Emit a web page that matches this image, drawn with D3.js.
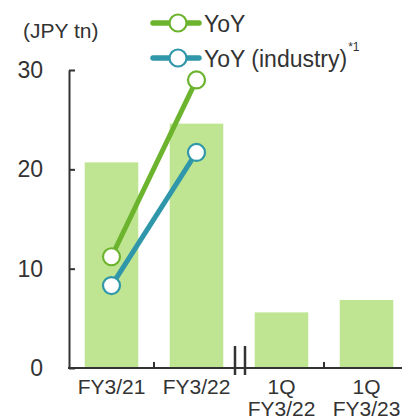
<!DOCTYPE html>
<html>
<head>
<meta charset="utf-8">
<script src="https://cdn.jsdelivr.net/npm/d3@7"></script>
<style>
    body { margin: 0; background: #fff; }
    text { font-family: "Liberation Sans", Arial, sans-serif; fill: #333; }
</style>
</head>
<body>
<div id="chart"></div>
<script>

// categories (first line / second line of the label)
var categories = ["FY3/21", "FY3/22", "1Q FY3/22", "1Q FY3/23"];
var labelLines = [["FY3/21"], ["FY3/22"], ["1Q", "FY3/22"], ["1Q", "FY3/23"]];

// bar values (JPY tn)
var barValues = [20.7, 24.6, 5.6, 6.85];

// line series (only the two fiscal years)
var yoyValues = [11.2, 29.0];
var yoyIndustryValues = [8.3, 21.7];

var yTicks = [0, 10, 20, 30];

var width = 402, height = 420;

var svg = d3.select("#chart").append("svg")
    .attr("width", width)
    .attr("height", height);

var x = d3.scaleBand()
    .domain(categories)
    .range([69, 409])
    .paddingInner(0.37)
    .paddingOuter(0.185);

var y = d3.scaleLinear()
    .domain([0, 30])
    .range([368, 70]);

// bars
svg.selectAll(".bar")
    .data(barValues)
    .enter()
    .append("rect")
    .attr("class", "bar")
    .attr("x", function (d, i) { return x(categories[i]); })
    .attr("y", function (d) { return y(d); })
    .attr("width", x.bandwidth())
    .attr("height", function (d) { return y(0) - y(d); })
    .style("fill", "#bfe592");

// y axis
var yAxis = d3.axisLeft(y).tickValues(yTicks).tickSizeInner(-6).tickSizeOuter(0).tickPadding(26);
var yElement = svg.append("g")
    .attr("transform", "translate(69,0)")
    .call(yAxis);
yElement.select(".domain").attr("stroke", "#333").attr("stroke-width", 2);
yElement.selectAll(".tick line").attr("stroke", "#333").attr("stroke-width", 2);
yElement.selectAll(".tick text")
    .attr("font-family", null)
    .attr("font-size", null)
    .style("font-size", "23px")
    .style("fill", "#333");

// x axis line
svg.append("line")
    .attr("x1", 68).attr("x2", width)
    .attr("y1", y(0)).attr("y2", y(0))
    .attr("stroke", "#333").attr("stroke-width", 2);

// x ticks at the band boundaries (pointing up)
var step = x.step();
[1, 3].forEach(function (i) {
    var bx = x(categories[i]) - (step - x.bandwidth()) / 2;
    svg.append("line")
        .attr("x1", bx).attr("x2", bx)
        .attr("y1", y(0)).attr("y2", y(0) - 6)
        .attr("stroke", "#333").attr("stroke-width", 2);
});

// axis break between fiscal years and quarters
var breakX = x(categories[2]) - (step - x.bandwidth()) / 2 + 1;
[-5, 5].forEach(function (dx) {
    svg.append("line")
        .attr("x1", breakX + dx).attr("x2", breakX + dx)
        .attr("y1", y(0) - 22).attr("y2", y(0) + 7)
        .attr("stroke", "#333").attr("stroke-width", 2.5);
});

// x labels
labelLines.forEach(function (lines, i) {
    var t = svg.append("text")
        .attr("x", x(categories[i]) + x.bandwidth() / 2)
        .attr("y", 394)
        .attr("text-anchor", "middle")
        .style("font-size", "21px");
    lines.forEach(function (s, j) {
        t.append("tspan")
            .attr("x", x(categories[i]) + x.bandwidth() / 2)
            .attr("dy", j === 0 ? 0 : 22)
            .text(s);
    });
});

// unit label
svg.append("text")
    .attr("x", 23).attr("y", 38)
    .style("font-size", "21px")
    .text("(JPY tn)");

// lines
var series = [
    { name: "YoY", values: yoyValues, color: "#6cb42e" },
    { name: "YoY (industry)", values: yoyIndustryValues, color: "#2f97a9" }
];

var line = d3.line()
    .x(function (d, i) { return x(categories[i]) + x.bandwidth() / 2; })
    .y(function (d) { return y(d); });

series.forEach(function (s) {
    svg.append("path")
        .datum(s.values)
        .attr("d", line)
        .attr("fill", "none")
        .attr("stroke", s.color)
        .attr("stroke-width", 5);

    svg.selectAll(null)
        .data(s.values)
        .enter()
        .append("circle")
        .attr("cx", function (d, i) { return x(categories[i]) + x.bandwidth() / 2; })
        .attr("cy", function (d) { return y(d); })
        .attr("r", 8.5)
        .attr("fill", "#fff")
        .attr("stroke", s.color)
        .attr("stroke-width", 2.2);
});

// legend
var legend = svg.append("g");
series.forEach(function (s, i) {
    var ly = 23 + i * 35;
    legend.append("line")
        .attr("x1", 153).attr("x2", 199)
        .attr("y1", ly).attr("y2", ly)
        .attr("stroke", s.color).attr("stroke-width", 5.5)
        .attr("stroke-linecap", "round");
    legend.append("circle")
        .attr("cx", 178).attr("cy", ly)
        .attr("r", 8.5)
        .attr("fill", "#fff")
        .attr("stroke", s.color).attr("stroke-width", 2.2);
    var t = legend.append("text")
        .attr("x", 204).attr("y", ly + 9)
        .style("font-size", "23px")
        .text(s.name);
    if (i === 1) {
        t.append("tspan")
            .attr("dy", -16)
            .attr("dx", 1)
            .style("font-size", "12px")
            .text("*1");
    }
});

</script>
</body>
</html>
